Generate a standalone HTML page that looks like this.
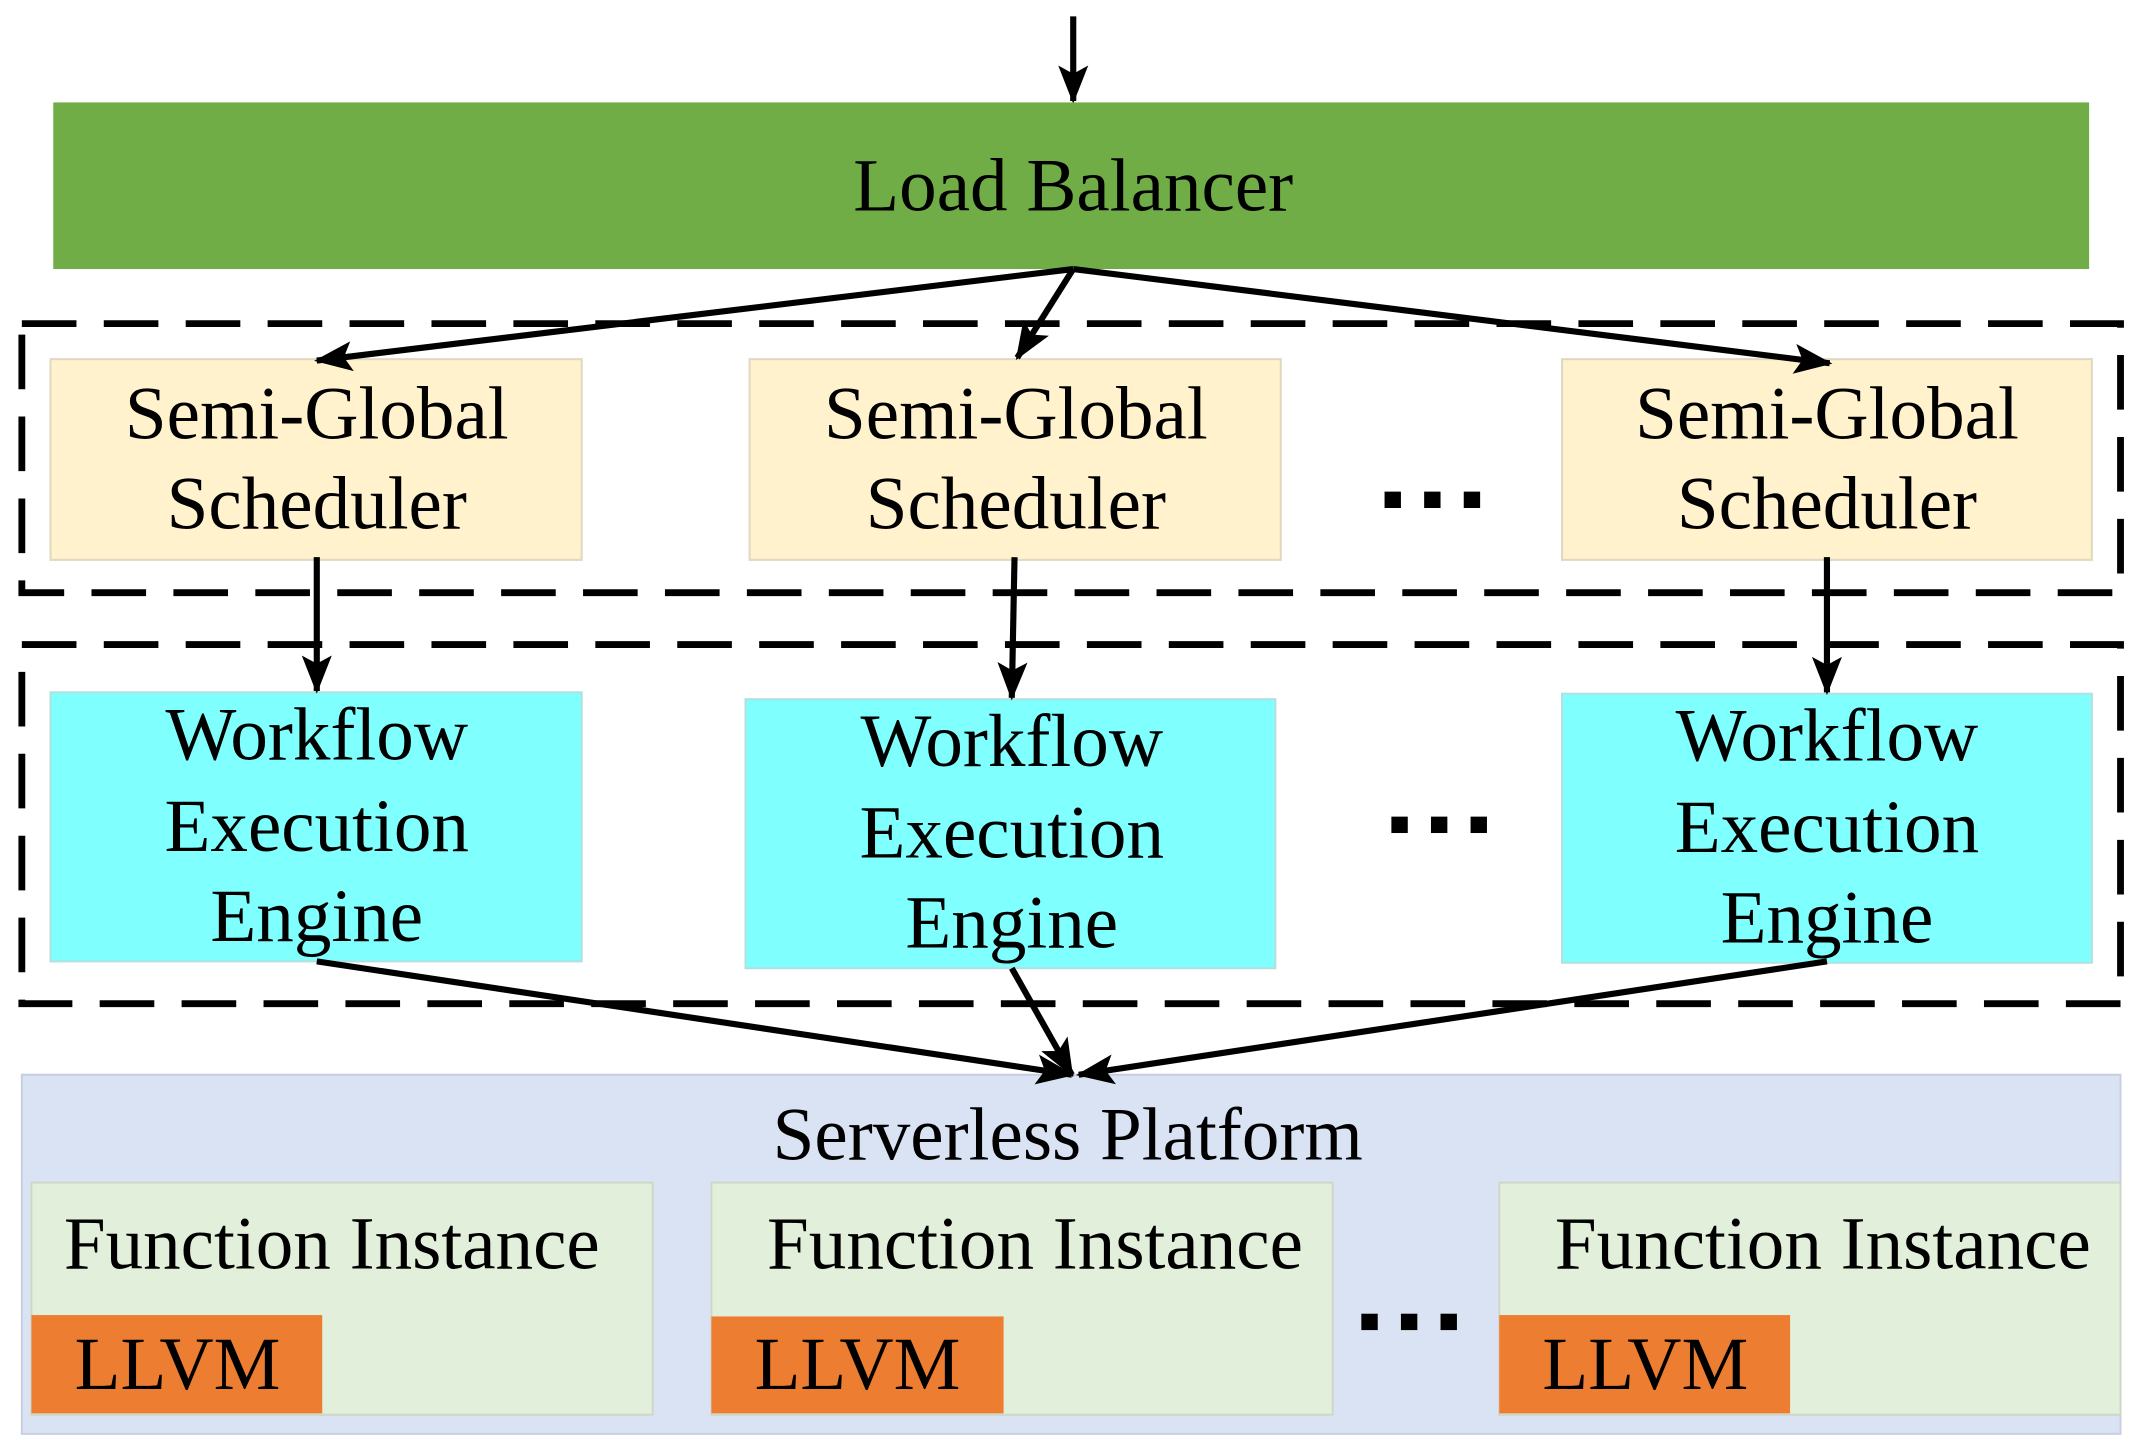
<!DOCTYPE html>
<html><head><meta charset="utf-8"><style>html,body{margin:0;padding:0;background:#fff}svg{display:block}text{font-family:"Liberation Serif",serif;fill:#000}</style></head>
<body>
<svg width="2141" height="1453" viewBox="0 0 1568 1064" preserveAspectRatio="none" xmlns="http://www.w3.org/2000/svg">
<defs>
<marker id="h" markerWidth="28" markerHeight="22" refX="26" refY="11" orient="auto" markerUnits="userSpaceOnUse"><path d="M0,0 L28,11 L0,22 L6,11 z" fill="#000"/></marker></defs>
<g stroke="#000" stroke-width="4.5" fill="none">
<line x1="786" y1="12" x2="786" y2="74" marker-end="url(#h)"/>
</g>
<rect x="39" y="75" width="1491" height="122" fill="#70AD47"/>
<text x="786" y="154" font-size="55" text-anchor="middle">Load Balancer</text>
<rect x="16" y="237" width="1537" height="197" fill="none" stroke="#000" stroke-width="5" stroke-dasharray="40,20"/>
<rect x="16" y="472" width="1537" height="263" fill="none" stroke="#000" stroke-width="5" stroke-dasharray="40,20"/>
<g fill="#FFF2CC" stroke="#e0d8c0" stroke-width="1.5">
<rect x="37" y="263" width="389" height="147"/><rect x="549" y="263" width="389" height="147"/><rect x="1144" y="263" width="388" height="147"/></g>
<g font-size="55" text-anchor="middle">
<text x="232" y="321">Semi-Global</text><text x="232" y="387">Scheduler</text>
<text x="744" y="321">Semi-Global</text><text x="744" y="387">Scheduler</text>
<text x="1338" y="321">Semi-Global</text><text x="1338" y="387">Scheduler</text></g>
<g fill="#80FFFF" stroke="#b0e0e0" stroke-width="1.5">
<rect x="37" y="507" width="389" height="197"/><rect x="546" y="512" width="388" height="197"/><rect x="1144" y="508" width="388" height="197"/></g>
<g font-size="55" text-anchor="middle">
<text x="232" y="556">Workflow</text><text x="232" y="623">Execution</text><text x="232" y="689">Engine</text>
<text x="741" y="561">Workflow</text><text x="741" y="628">Execution</text><text x="741" y="694">Engine</text>
<text x="1338" y="557">Workflow</text><text x="1338" y="624">Execution</text><text x="1338" y="690">Engine</text></g>
<rect x="16" y="787" width="1537" height="263" fill="#DAE3F3" stroke="#c8d0e0" stroke-width="1.5"/>
<text x="782" y="849" font-size="55" text-anchor="middle">Serverless Platform</text>
<g fill="#000">
<rect x="1014" y="360" width="12" height="12"/><rect x="1043" y="360" width="12" height="12"/><rect x="1072" y="360" width="12" height="12"/>
<rect x="1019" y="598" width="12" height="12"/><rect x="1048" y="598" width="12" height="12"/><rect x="1077" y="598" width="12" height="12"/>
<rect x="997" y="962" width="12" height="12"/><rect x="1026" y="962" width="12" height="12"/><rect x="1055" y="962" width="12" height="12"/></g>
<g fill="#E2EFDA" stroke="#cfd8c8" stroke-width="1.5">
<rect x="23" y="866" width="455" height="170"/><rect x="521" y="866" width="455" height="170"/><rect x="1098" y="866" width="455" height="170"/></g>
<g font-size="55" text-anchor="middle">
<text x="243" y="929">Function Instance</text><text x="758" y="929">Function Instance</text><text x="1335" y="929">Function Instance</text></g>
<g fill="#ED7D31"><rect x="23" y="963" width="213" height="72"/><rect x="521" y="964" width="214" height="71"/><rect x="1098" y="963" width="213" height="72"/></g>
<g font-size="55" text-anchor="middle">
<text x="130" y="1017">LLVM</text><text x="628" y="1017">LLVM</text><text x="1205" y="1017">LLVM</text></g>
<g stroke="#000" stroke-width="4.5" fill="none">
<line x1="786" y1="197" x2="232" y2="264" marker-end="url(#h)"/>
<line x1="786" y1="197" x2="745" y2="262" marker-end="url(#h)"/>
<line x1="786" y1="197" x2="1340" y2="266" marker-end="url(#h)"/>
<line x1="232" y1="408" x2="232" y2="506" marker-end="url(#h)"/>
<line x1="743" y1="408" x2="741" y2="511" marker-end="url(#h)"/>
<line x1="1338" y1="408" x2="1338" y2="507" marker-end="url(#h)"/>
<line x1="232" y1="704" x2="785" y2="787" marker-end="url(#h)"/>
<line x1="741" y1="709" x2="785" y2="787" marker-end="url(#h)"/>
<line x1="1338" y1="704" x2="790" y2="787" marker-end="url(#h)"/>
</g>
</svg>
</body></html>
